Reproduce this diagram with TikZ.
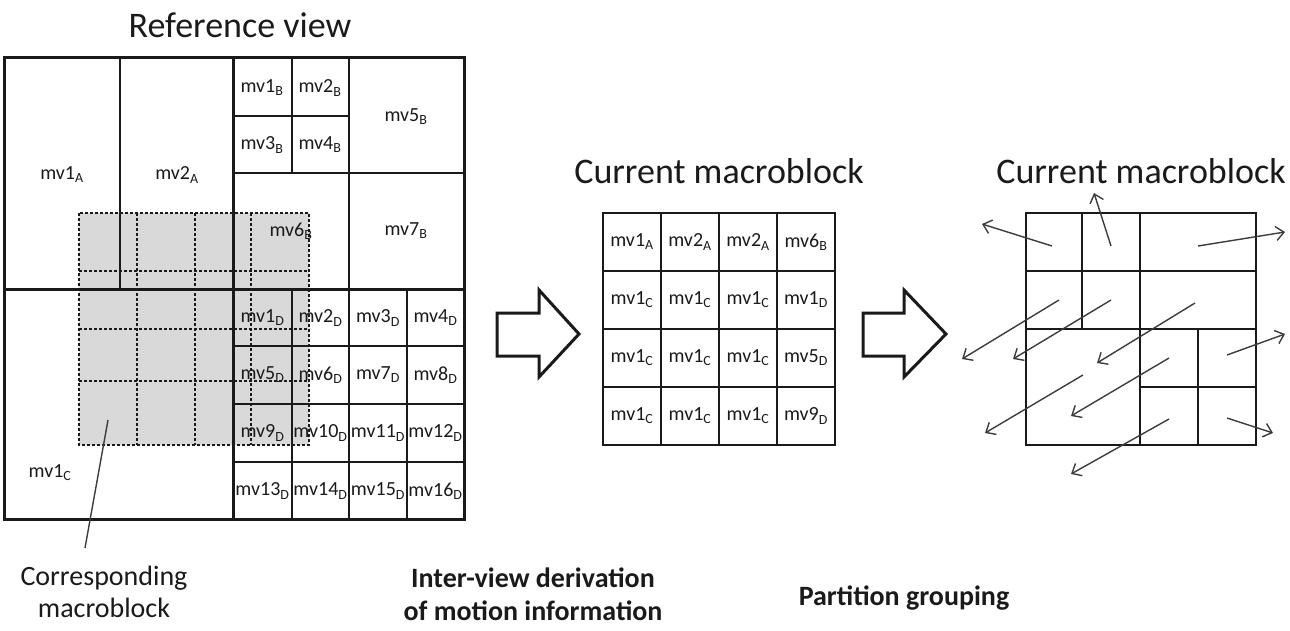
\documentclass[tikz,border=0pt]{standalone}
\usepackage{fontspec}
\setmainfont{Carlito}
\usetikzlibrary{arrows.meta}
\definecolor{ink}{HTML}{1A1A1A}
\definecolor{cmbgray}{HTML}{D9D9D9}
% motion vector label with partition subscript
\newcommand\mvl[2]{mv#1\textsubscript{#2}}

\begin{document}
\begin{tikzpicture}[x=1pt,y=-1pt,
  thingrid/.style={line width=1.6pt, draw=ink},
  thickgrid/.style={line width=3pt, draw=ink},
  mvtext/.style={font=\fontsize{20}{22}\selectfont, text=ink, inner sep=0pt},
  titletext/.style={font=\fontsize{36}{40}\selectfont, text=ink, anchor=base, inner sep=0pt},
  captext/.style={font=\fontsize{28}{33}\selectfont, text=ink, anchor=base, inner sep=0pt},
  boldcap/.style={font=\fontsize{28}{33}\selectfont\bfseries, text=ink, anchor=base, inner sep=0pt},
  dashgrid/.style={line width=1.6pt, draw=ink, dash pattern=on 3pt off 2pt},
  blockarrow/.style={line width=3pt, draw=ink, fill=white, line join=miter},
  mvarrow/.style={line width=1.4pt, draw=ink!85, -{Straight Barb[length=8pt,width=14pt]}},
  pointer/.style={line width=1.4pt, draw=ink!85},
]
\useasboundingbox (0,0) rectangle (1290,630);

% ---------------- reference view ----------------
\node[titletext] (reftitle) at (240,37) {Reference view};

% corresponding macroblock (shaded, behind the partitions)
\fill[cmbgray] (79,213) rectangle (309,445);

% partition A
\draw[thingrid] (120,57) -- (120,289);
% partition B
\draw[thingrid] (292,57) -- (292,173);
\draw[thingrid] (233,116) -- (349,116);
\draw[thingrid] (349,57) -- (349,289);
\draw[thingrid] (233,173) -- (464,173);
% partition D (4x4)
\foreach \x in {292,349,407} \draw[thingrid] (\x,289) -- (\x,519);
\foreach \y in {346,404,462} \draw[thingrid] (233,\y) -- (464,\y);
% macroblock borders
\draw[thickgrid] (4,57) rectangle (464,519);
\draw[thickgrid] (233,57) -- (233,519);
\draw[thickgrid] (4,289) -- (464,289);

% dashed 4x4 grid of the corresponding macroblock
\draw[dashgrid] (79,213) rectangle (309,445);
\foreach \x in {137,195,251} \draw[dashgrid] (\x,213) -- (\x,445);
\foreach \y in {271,329,381} \draw[dashgrid] (79,\y) -- (309,\y);

% labels of the reference partitions
\node[mvtext] (a1) at (62,175) {\mvl{1}{A}};
\node[mvtext] (a2) at (177,175) {\mvl{2}{A}};
\node[mvtext] (b1) at (262,88) {\mvl{1}{B}};
\node[mvtext] (b2) at (320,88) {\mvl{2}{B}};
\node[mvtext] (b3) at (262,145) {\mvl{3}{B}};
\node[mvtext] (b4) at (320,145) {\mvl{4}{B}};
\node[mvtext] (b5) at (406,117) {\mvl{5}{B}};
\node[mvtext] (b6) at (291,231) {\mvl{6}{B}};
\node[mvtext] (b7) at (406,231) {\mvl{7}{B}};
\node[mvtext] (c1) at (50,473) {\mvl{1}{C}};
\foreach \r/\yy in {0/318,1/375,2/433,3/491}
  \foreach \c/\xx in {1/262.5,2/320.5,3/378,4/435.5}
  {
    \pgfmathtruncatemacro\k{4*\r+\c}
    \node[mvtext] (d\k) at (\xx,\yy) {\mvl{\k}{D}};
  }

% pointer to the corresponding macroblock
\coordinate (cmbpt) at (108,420);
\coordinate (cmbend) at (85,548);
\draw[pointer] (cmbpt) -- (cmbend);
\node[captext] (cap1) at (104,585) {Corresponding};
\node[captext] (cap2) at (104,617) {macroblock};

% ---------------- first step ----------------
\draw[blockarrow] (497,313) -- (539,313) -- (539,290) -- (579,334) -- (539,377) -- (539,356) -- (497,356) -- cycle;
\node[boldcap] (step1a) at (533,587) {Inter-view derivation};
\node[boldcap] (step1b) at (533,620) {of motion information};

% ---------------- derived macroblock ----------------
\node[titletext] (curtitle1) at (719,183) {Current macroblock};
\draw[thingrid] (603,213) rectangle (835,445);
\foreach \x in {661,719,777} \draw[thingrid] (\x,213) -- (\x,445);
\foreach \y in {271,329,387} \draw[thingrid] (603,\y) -- (835,\y);
\foreach \lab [count=\i from 0] in {
    {\mvl{1}{A}},{\mvl{2}{A}},{\mvl{2}{A}},{\mvl{6}{B}},
    {\mvl{1}{C}},{\mvl{1}{C}},{\mvl{1}{C}},{\mvl{1}{D}},
    {\mvl{1}{C}},{\mvl{1}{C}},{\mvl{1}{C}},{\mvl{5}{D}},
    {\mvl{1}{C}},{\mvl{1}{C}},{\mvl{1}{C}},{\mvl{9}{D}}}
  {
    \pgfmathsetmacro\cx{632+58*mod(\i,4)}
    \pgfmathsetmacro\cy{242+58*floor(\i/4)}
    \node[mvtext] (m\i) at (\cx,\cy) {\lab};
  }

% ---------------- second step ----------------
\draw[blockarrow] (863,313) -- (904,313) -- (904,290) -- (946,334) -- (904,377) -- (904,356) -- (863,356) -- cycle;
\node[boldcap] (step2) at (904,605) {Partition grouping};

% ---------------- grouped partitions ----------------
\node[titletext] (curtitle2) at (1141,183) {Current macroblock};
\draw[thingrid] (1026,213) rectangle (1256,445);
\draw[thingrid] (1026,271) -- (1256,271);
\draw[thingrid] (1026,329) -- (1256,329);
\draw[thingrid] (1140,387) -- (1256,387);
\draw[thingrid] (1082,213) -- (1082,329);
\draw[thingrid] (1140,213) -- (1140,445);
\draw[thingrid] (1198,329) -- (1198,445);

% motion vectors of the grouped partitions
\foreach \sx/\sy/\ex/\ey in {
    1052/246/982/224, 1111/246/1094/193, 1198/246/1285/232,
    1059/300/962/359, 1111/300/1013/359, 1195/303/1097/363,
    1227/355/1285/334, 1083/375/985/433, 1169/358/1071/416,
    1169/419/1071/474, 1227/418/1273/433}
  \draw[mvarrow] (\sx,\sy) -- (\ex,\ey);
\end{tikzpicture}
\end{document}
